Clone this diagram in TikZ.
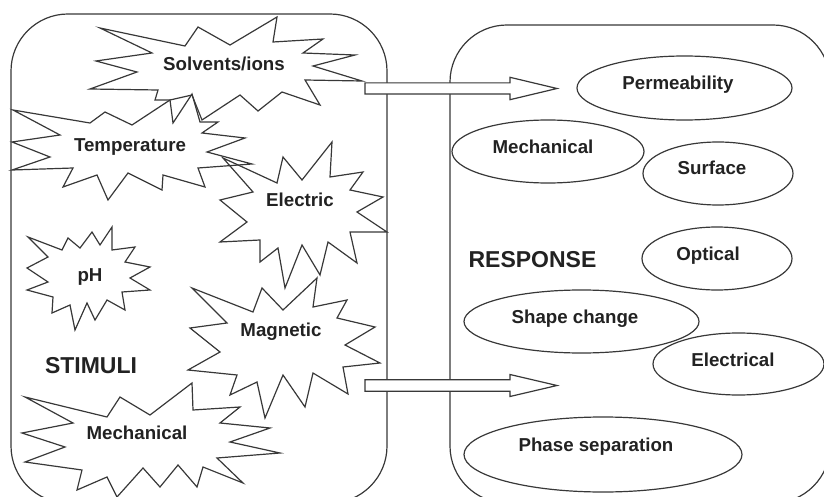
\documentclass[tikz,border=0pt]{standalone}
\usepackage{fontspec}
\setmainfont{Liberation Sans}
\usetikzlibrary{shapes.geometric}
\definecolor{linec}{HTML}{383838}
\definecolor{textc}{HTML}{222222}
\tikzset{
  boxsty/.style={draw=linec, line width=1.2pt, rounded corners=57pt},
  burst/.style={draw=linec, line width=1.2pt, line join=miter, miter limit=20},
  lbl/.style={font=\fontsize{18.7}{20}\selectfont\bfseries, text=textc, inner sep=0pt, text height=13.4pt, text depth=0pt},
  biglbl/.style={font=\fontsize{23}{26}\selectfont\bfseries, text=textc, inner sep=0pt, text height=16.5pt, text depth=0pt},
  resp/.style={ellipse, draw=linec, line width=1.2pt, inner sep=0pt},
  arrowsty/.style={draw=linec, fill=white, line width=1.2pt, line join=miter}
}
\begin{document}
\begin{tikzpicture}[x=1pt, y=-1pt]
\useasboundingbox (0,0) rectangle (824,497);
\clip (0,0) rectangle (824,497);
% boxes
\draw[boxsty] (11,14) rectangle (387,503);
\draw[boxsty] (450,25) rectangle (830,503);

% Solvents/ions
\draw[burst] (100,28) -- (185,46) -- (198,27) -- (230,45) -- (277,17) -- (273,42) -- (323,39) -- (303,53) -- (355,55) -- (313,66) -- (362,81) -- (305,80) -- (320,105) -- (282,92) -- (258,111) -- (240,95) -- (202,120) -- (192,95) -- (170,100) -- (155,100) -- (158,90) -- (90,89) -- (137,72) -- (96,61) -- (152,53) -- cycle;
% Temperature
\draw[burst] (13,110) -- (90,123) -- (105,112) -- (132,125) -- (170,100) -- (173,123) -- (192,94) -- (200,122) -- (218,122) -- (202,133) -- (245,138) -- (207,152) -- (252,164) -- (198,168) -- (205,187) -- (163,175) -- (162,190) -- (128,173) -- (108,200) -- (97,175) -- (63,187) -- (73,168) -- (12,170) -- (50,157) -- (12,142) -- (60,135) -- cycle;
% Electric
\draw[burst] (223,158) -- (277,183) -- (283,157) -- (302,180) -- (332,142) -- (330,177) -- (363,172) -- (350,190) -- (383,197) -- (357,212) -- (387,232) -- (350,232) -- (357,263) -- (328,242) -- (320,275) -- (302,245) -- (285,288) -- (278,248) -- (260,262) -- (260,240) -- (220,242) -- (247,222) -- (220,200) -- (253,192) -- cycle;
% pH
\draw[burst] (28,237) -- (62,250) -- (68,238) -- (80,248) -- (92,232) -- (100,245) -- (112,227) -- (112,250) -- (135,247) -- (125,262) -- (150,267) -- (130,278) -- (150,290) -- (122,292) -- (125,310) -- (107,300) -- (95,320) -- (87,303) -- (75,330) -- (70,305) -- (52,313) -- (53,297) -- (27,290) -- (48,282) -- (27,268) -- (48,257) -- cycle;
% Magnetic
\draw[burst] (192,288) -- (253,312) -- (262,288) -- (283,310) -- (317,278) -- (313,307) -- (347,300) -- (337,318) -- (375,327) -- (345,345) -- (380,363) -- (343,367) -- (348,394) -- (313,373) -- (305,407) -- (283,375) -- (265,418) -- (257,382) -- (230,395) -- (237,375) -- (188,370) -- (220,352) -- (190,328) -- (227,323) -- cycle;
% Mechanical (stimulus)
\draw[burst] (25,397) -- (73,423) -- (22,433) -- (65,447) -- (25,462) -- (82,470) -- (77,490) -- (107,477) -- (117,497) -- (143,468) -- (160,487) -- (178,465) -- (197,487) -- (203,467) -- (243,483) -- (217,458) -- (280,453) -- (230,442) -- (270,428) -- (220,423) -- (240,407) -- (193,410) -- (192,383) -- (150,415) -- (120,397) -- (107,417) -- cycle;

% stimulus labels
\node[lbl] (solv) at (224,64) {Solvents/ions};
\node[lbl] (temp) at (130,145) {Temperature};
\node[lbl] (elec) at (300,200) {Electric};
\node[lbl] (ph) at (90,275) {pH};
\node[lbl] (magn) at (281,330) {Magnetic};
\node[lbl] (mechs) at (137,433) {Mechanical};
\node[biglbl] (stim) at (91,365) {STIMULI};

% responses
\node[resp, minimum width=215pt, minimum height=64pt] (perm) at (684.5,88) {};
\node[lbl] (permt) at (678,83) {Permeability};
\node[resp, minimum width=192pt, minimum height=63pt] (mechr) at (548,151.5) {};
\node[lbl] (mechrt) at (543,147) {Mechanical};
\node[resp, minimum width=150pt, minimum height=63pt] (surf) at (718,173.5) {};
\node[lbl] (surft) at (712,168) {Surface};
\node[resp, minimum width=150pt, minimum height=63pt] (opt) at (717,258.5) {};
\node[lbl] (optt) at (708,253.5) {Optical};
\node[resp, minimum width=235pt, minimum height=63pt] (shape) at (581.5,321.5) {};
\node[lbl] (shapet) at (575,317) {Shape change};
\node[resp, minimum width=171pt, minimum height=62pt] (elecr) at (738.5,364) {};
\node[lbl] (elecrt) at (733,360) {Electrical};
\node[resp, minimum width=278pt, minimum height=75pt] (phase) at (603,454.5) {};
\node[lbl] (phaset) at (596,445) {Phase separation};
\node[biglbl] (resplbl) at (532.5,259.5) {RESPONSE};

% arrows
\coordinate (arrA) at (365,88.5);
\coordinate (arrB) at (365,385.5);
\draw[arrowsty] (arrA) ++(0,-5.6) -- ++(145,0) -- ++(0,-5.6) -- ++(47,11.2) -- ++(-47,11.2) -- ++(0,-5.6) -- ++(-145,0) -- cycle;
\draw[arrowsty] (arrB) ++(0,-5.8) -- ++(145,0) -- ++(0,-5.2) -- ++(47,11) -- ++(-47,11) -- ++(0,-5.2) -- ++(-145,0) -- cycle;
\end{tikzpicture}
\end{document}
